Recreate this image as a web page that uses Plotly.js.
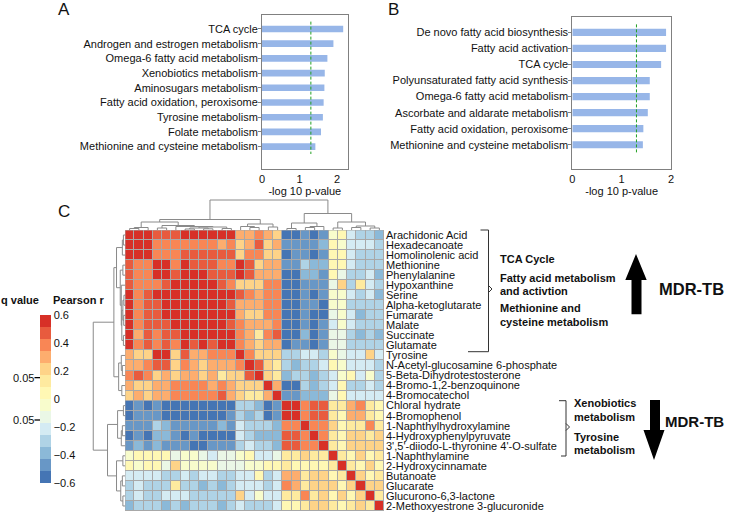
<!DOCTYPE html>
<html><head><meta charset="utf-8">
<script src="https://cdn.plot.ly/plotly-3.0.1.min.js"></script>
<style>html,body{margin:0;padding:0;background:#fff}#chart{width:735px;height:516px}</style>
</head><body><div id="chart"></div>
<script>
// ---------- Panel A ----------
const pathwaysA = ["TCA cycle","Androgen and estrogen metabolism","Omega-6 fatty acid metabolism","Xenobiotics metabolism","Aminosugars metabolism","Fatty acid oxidation, peroxisome","Tyrosine metabolism","Folate metabolism","Methionine and cysteine metabolism"];
const logPA = [2.16,1.90,1.74,1.67,1.66,1.64,1.62,1.57,1.42];
// ---------- Panel B ----------
const pathwaysB = ["De novo fatty acid biosynthesis","Fatty acid activation","TCA cycle","Polyunsaturated fatty acid synthesis","Omega-6 fatty acid metabolism","Ascorbate and aldarate metabolism","Fatty acid oxidation, peroxisome","Methionine and cysteine metabolism"];
const logPB = [1.90,1.90,1.80,1.57,1.57,1.53,1.44,1.43];
const pThreshold = 1.3;   // -log10(0.05)
const xTicksBars = [0,1,2];

// ---------- Panel C ----------
const metabolites = ["Arachidonic Acid","Hexadecanoate","Homolinolenic acid","Methionine","Phenylalanine","Hypoxanthine","Serine","Alpha-ketoglutarate","Fumarate","Malate","Succinate","Glutamate","Tyrosine","N-Acetyl-glucosamine 6-phosphate","5-Beta-Dihydrotestosterone","4-Bromo-1,2-benzoquinone","4-Bromocatechol","Chloral hydrate","4-Bromophenol","1-Naphthylhydroxylamine","4-Hydroxyphenylpyruvate","3',5'-diiodo-L-thyronine 4'-O-sulfate","1-Naphthylamine","2-Hydroxycinnamate","Butanoate","Glucarate","Glucurono-6,3-lactone","2-Methoxyestrone 3-glucuronide"];
// Pearson r, upper triangle: row i lists columns i+1 .. 27 (matrix is symmetric, diagonal = 1)
const corrUpper = [
 [.58,.58,.47,.47,.47,.58,.58,.58,.58,.58,.58,.30,.30,.39,.30,.21,-.56,-.56,-.47,-.56,-.47,-.04,.04,-.21,-.30,-.30,-.39],
 [.58,.39,.39,.39,.39,.39,.39,.39,.30,.39,.21,.30,.47,.21,.30,-.47,-.47,-.47,-.47,-.39,.04,-.04,-.21,-.21,-.21,-.30],
 [.39,.39,.39,.47,.47,.47,.47,.47,.47,.21,.39,.39,.21,.21,-.56,-.47,-.47,-.56,-.47,.04,.04,-.21,-.30,-.30,-.30],
 [.58,.39,.58,.47,.47,.47,.39,.39,.58,.47,.21,.30,.30,-.47,-.47,-.30,-.39,-.39,.04,.04,-.21,-.30,-.30,-.30],
 [.47,.58,.58,.58,.47,.47,.47,.58,.47,.30,.30,.30,-.56,-.56,-.39,-.39,-.47,.04,-.13,-.30,-.30,-.21,-.39],
 [.58,.58,.58,.58,.47,.39,.21,.21,.21,.39,.39,-.56,-.56,-.47,-.47,-.47,-.13,.21,-.30,.13,-.21,-.30],
 [.58,.58,.58,.58,.58,.47,.39,.30,.39,.39,-.56,-.56,-.47,-.56,-.47,-.04,-.04,-.21,-.30,-.21,-.39],
 [.58,.58,.58,.47,.30,.30,.30,.39,.39,-.56,-.56,-.47,-.47,-.56,-.04,-.04,-.30,-.30,-.30,-.30],
 [.58,.58,.58,.30,.21,.21,.39,.39,-.56,-.56,-.47,-.56,-.56,-.13,-.04,-.21,-.39,-.30,-.30],
 [.58,.47,.39,.30,.30,.30,.39,-.56,-.56,-.47,-.56,-.47,-.21,-.04,-.21,-.30,-.30,-.30],
 [.58,.39,.30,.13,.39,.47,-.56,-.56,-.39,-.56,-.47,-.13,-.13,-.30,-.39,-.30,-.39],
 [.39,.30,.21,.30,.30,-.56,-.47,-.47,-.56,-.47,-.13,-.13,-.30,-.30,-.30,-.30],
 [.39,.21,.21,.21,-.30,-.30,-.21,-.21,-.30,-.04,-.13,-.21,-.21,.21,-.21],
 [.47,.21,.13,-.30,-.39,-.30,-.30,-.21,.04,-.04,-.21,-.21,-.21,-.30],
 [.21,.13,-.39,-.30,-.30,-.39,-.30,-.21,-.04,.04,-.21,-.04,-.30],
 [.30,-.56,-.56,-.30,-.39,-.30,-.21,.04,-.30,-.30,-.21,-.30],
 [-.47,-.47,-.39,-.39,-.39,-.13,.04,-.21,-.21,-.21,-.21],
 [.58,.39,.47,.47,.13,.13,.30,.39,.13,.04],
 [.39,.47,.47,.13,.04,.30,.30,.13,.04],
 [.39,.39,.21,.04,.13,.13,.39,.13],
 [.39,.13,.04,.21,.21,.13,.21],
 [.13,.04,.21,.21,.21,.21],
 [.13,.04,.21,.04,.13],
 [.13,.04,.21,.04],
 [.21,.04,.13],
 [.21,.21],
 [.13],
 []
];
// hierarchical clustering (same tree for rows and columns): [childA, childB, height]
const dendroMerges = [
 [0,1,1.5],[28,2,2.5],[3,4,2],[6,7,1],[8,9,1.2],[31,32,2],[10,11,1.5],[33,34,3],[5,35,3.5],[30,36,4.5],[29,37,8],
 [13,14,2.5],[12,39,3.5],[15,16,3],[40,41,6],[38,42,10.5],
 [17,18,1.5],[19,20,2.5],[45,21,3.5],[44,46,7],
 [22,23,2],[24,25,2.5],[26,27,2],[49,50,4],[48,51,8],[47,52,16.5],[43,53,30]
];
const colorTickVals = [-0.6,-0.4,-0.2,0,0.2,0.4,0.6];
const colorTickText = ["\u22120.6","\u22120.4","\u22120.2","0","0.2","0.4","0.6"];
const qCutR = [0.157,-0.15]; // q = 0.05 positions on the r scale

// ---------- styling ----------
const W = 735, H = 516;
const X = px => px / W, Y = py => 1 - py / H;
const FONT = "Liberation Sans, Arial, Helvetica, sans-serif";
const TXT = "#111111";
const AX = "#808080";
const palette = ["#4575b4","#6897c6","#8bb9d8","#afd3e6","#d4ebf3","#eaf7e6","#f8fccc","#fff8b4","#feea9f","#fed388","#fdad6e","#f98655","#e85b3e","#d73027"];
const colorscale = [];
palette.forEach((c,k)=>{ colorscale.push([k/palette.length,c]); colorscale.push([(k+1)/palette.length,c]); });

// ---------- build matrix ----------
const n = metabolites.length;
const idx = metabolites.map((_,i)=>i);
const z = idx.map(()=>new Array(n).fill(0));
for (let i=0;i<n;i++){
  z[i][i] = 1;
  (corrUpper[i]||[]).forEach((v,k)=>{ const j=i+1+k; z[i][j]=v; z[j][i]=v; });
}

// ---------- dendrogram segments ----------
function dendro(merges, nLeaves){
  const pos=[], ht=[]; const xs=[], ys=[];
  for (let i=0;i<nLeaves;i++){pos[i]=i;ht[i]=0;}
  merges.forEach((m,k)=>{
    const [a,b,h]=m, id=nLeaves+k;
    pos[id]=(pos[a]+pos[b])/2; ht[id]=h;
    xs.push(pos[a],pos[a],pos[b],pos[b],null);
    ys.push(ht[a],h,h,ht[b],null);
  });
  return {p:xs,h:ys};
}
const dg = dendro(dendroMerges, n);

const traces = [
  {type:'bar', orientation:'h', x:logPA, y:pathwaysA, xaxis:'x2', yaxis:'y2',
   marker:{color:'#97b6e8', line:{width:0}}, width:0.45, hoverinfo:'skip'},
  {type:'bar', orientation:'h', x:logPB, y:pathwaysB, xaxis:'x3', yaxis:'y3',
   marker:{color:'#97b6e8', line:{width:0}}, width:0.45, hoverinfo:'skip'},
  {type:'heatmap', z:z, x:idx, y:idx, xaxis:'x', yaxis:'y', zmin:-0.6, zmax:0.6,
   colorscale:colorscale, xgap:1, ygap:1, hoverinfo:'skip', showscale:true,
   colorbar:{x:X(40), xanchor:'left', xpad:0, y:Y(315), yanchor:'top', ypad:0,
     len:168, lenmode:'pixels', thickness:10.5, outlinewidth:0,
     tickvals:colorTickVals, ticktext:colorTickText, ticks:'', ticklabelstandoff:3,
     tickfont:{size:11, color:TXT, family:FONT}}},
  {type:'scatter', mode:'lines', x:dg.p, y:dg.h, xaxis:'x4', yaxis:'y4',
   line:{color:'#8a8a8a', width:1}, hoverinfo:'skip'},
  {type:'scatter', mode:'lines', x:dg.h, y:dg.p, xaxis:'x5', yaxis:'y5',
   line:{color:'#8a8a8a', width:1}, hoverinfo:'skip'}
];

const barAxisY = (dom, cats, rng) => ({domain:dom, type:'category', categoryorder:'array', categoryarray:cats,
  range:rng, ticks:'outside', ticklen:3, tickcolor:AX, ticklabelstandoff:-2, showline:true, linecolor:AX, mirror:true,
  showgrid:false, zeroline:false, tickfont:{size:11, color:TXT, family:FONT}, fixedrange:true});
const barAxisX = (dom, rng, anchor) => ({domain:dom, anchor:anchor, range:rng, tickvals:xTicksBars,
  ticks:'', showline:true, linecolor:AX, mirror:true,
  showgrid:false, zeroline:false, tickfont:{size:11, color:TXT, family:FONT},
  title:{text:'-log 10 p-value', font:{size:11, color:TXT, family:FONT}, standoff:0}});

const hmX = [X(125), X(384)], hmY = [Y(511), Y(230)];

const layout = {
  width:W, height:H, margin:{l:0,r:0,t:0,b:0}, paper_bgcolor:'#fff', plot_bgcolor:'rgba(0,0,0,0)',
  showlegend:false, font:{family:FONT, color:TXT, size:11},
  xaxis2: barAxisX([X(262),X(347.7)],[0,2.28],'y2'),
  yaxis2: Object.assign(barAxisY([Y(169),Y(15)],pathwaysA,[9.52,-0.95]),{anchor:'x2'}),
  xaxis3: barAxisX([X(572.3),X(671)],[0,2],'y3'),
  yaxis3: Object.assign(barAxisY([Y(169),Y(17.3)],pathwaysB,[8.51,-0.94]),{anchor:'x3'}),
  xaxis: {domain:hmX, anchor:'y', range:[-0.5,n-0.5], showticklabels:false, ticks:'', showgrid:false, zeroline:false, showline:false},
  yaxis: {domain:hmY, anchor:'x', range:[n-0.5,-0.5], side:'right', tickvals:idx, ticktext:metabolites, ticks:'',
          ticklabelstandoff:1, showgrid:false, zeroline:false, showline:false, tickfont:{size:11,color:TXT,family:FONT}},
  xaxis4: {domain:hmX, anchor:'y4', range:[-0.5,n-0.5], visible:false},
  yaxis4: {domain:[Y(230),Y(196)], anchor:'x4', range:[0,34], visible:false},
  xaxis5: {domain:[X(89),X(125)], anchor:'y5', range:[34,0], visible:false},
  yaxis5: {domain:hmY, anchor:'x5', range:[n-0.5,-0.5], visible:false},
  shapes: [], annotations: []
};

// grid background + outer border of heatmap
layout.shapes.push({type:'rect', xref:'x', yref:'y', x0:-0.5, x1:n-0.5, y0:-0.5, y1:n-0.5, fillcolor:'#a8a8a8', line:{width:0}, layer:'below'});
layout.shapes.push({type:'rect', xref:'x', yref:'y', x0:-0.5, x1:n-0.5, y0:-0.5, y1:n-0.5, line:{color:'#a8a8a8', width:1}});
// significance lines
layout.shapes.push({type:'line', xref:'x2', yref:'y2', x0:pThreshold, x1:pThreshold, y0:-0.5, y1:pathwaysA.length-0.5, line:{color:'#22a022', width:1, dash:'3px,2px'}});
layout.shapes.push({type:'line', xref:'x3', yref:'y3', x0:pThreshold, x1:pThreshold, y0:-0.5, y1:pathwaysB.length-0.5, line:{color:'#22a022', width:1, dash:'3px,2px'}});

// brackets, arrows, q-value marks (paper coordinates)
const pline = (x0,y0,x1,y1,w,c) => layout.shapes.push({type:'line', xref:'paper', yref:'paper', x0:X(x0), y0:Y(y0), x1:X(x1), y1:Y(y1), line:{color:c||'#333', width:w||1}});
const ppath = (pts, fill) => layout.shapes.push({type:'path', xref:'paper', yref:'paper',
  path:'M'+pts.map(p=>X(p[0])+','+Y(p[1])).join('L')+(fill?'Z':''),
  line:{color: fill ? '#000' : '#333', width: fill?0:1}, fillcolor: fill ? '#000' : 'rgba(0,0,0,0)'});
pline(480.5,230,488.5,230); pline(488.5,230,488.5,351.7); pline(468,351.7,488.5,351.7);
ppath([[488.5,285.5],[492,289],[488.5,292.5]], false);
pline(559,400.7,566,400.7); pline(566,400.7,566,456); pline(561,456,566,456);
ppath([[566,423.5],[569.5,427],[566,430.5]], false);
ppath([[636,254],[646.7,280],[641.5,280],[641.5,314.3],[631.5,314.3],[631.5,280],[625.3,280]], true);
ppath([[650,400],[660,400],[660,430],[664.5,430],[654,460],[643.5,430],[650,430]], true);
// q value 0.05 marks on legend (positioned on r scale of colour bar)
const rToPy = r => 399.3 - r/0.2*27.6;
qCutR.forEach(r => pline(34.5, rToPy(r), 50.7, rToPy(r), 1.3, '#000'));

const ann = (text, x, y, o) => layout.annotations.push(Object.assign({text:text, xref:'paper', yref:'paper', x:X(x), y:Y(y),
  xanchor:'left', yanchor:'middle', showarrow:false, borderpad:0, font:{size:11, color:TXT, family:FONT}}, o||{}));
ann('A', 57, 9.5, {font:{size:17, color:TXT, family:FONT}});
ann('B', 387, 9.5, {font:{size:17, color:TXT, family:FONT}});
ann('C', 57, 211, {font:{size:17, color:TXT, family:FONT}});
ann('<b>q value</b>', 0, 300);
ann('<b>Pearson r</b>', 52, 300);
qCutR.forEach(r => ann('0.05', 34.5, rToPy(r), {xanchor:'right'}));
ann('<b>TCA Cycle</b>', 499, 258.7);
ann('<b>Fatty acid metabolism</b>', 499, 277.7);
ann('<b>and activtion</b>', 499, 291);
ann('<b>Methionine and</b>', 499, 308);
ann('<b>cysteine metabolism</b>', 499, 321.7);
ann('<b>Xenobiotics</b>', 573, 403);
ann('<b>metabolism</b>', 573, 416.7);
ann('<b>Tyrosine</b>', 573, 437);
ann('<b>metabolism</b>', 573, 450);
ann('<b>MDR-TB</b>', 725, 289, {xanchor:'right', font:{size:16.5, color:TXT, family:FONT}});
ann('<b>MDR-TB</b>', 725, 421.7, {xanchor:'right', font:{size:15, color:TXT, family:FONT}});

Plotly.newPlot('chart', traces, layout, {staticPlot:true, displayModeBar:false});
</script>
</body></html>
